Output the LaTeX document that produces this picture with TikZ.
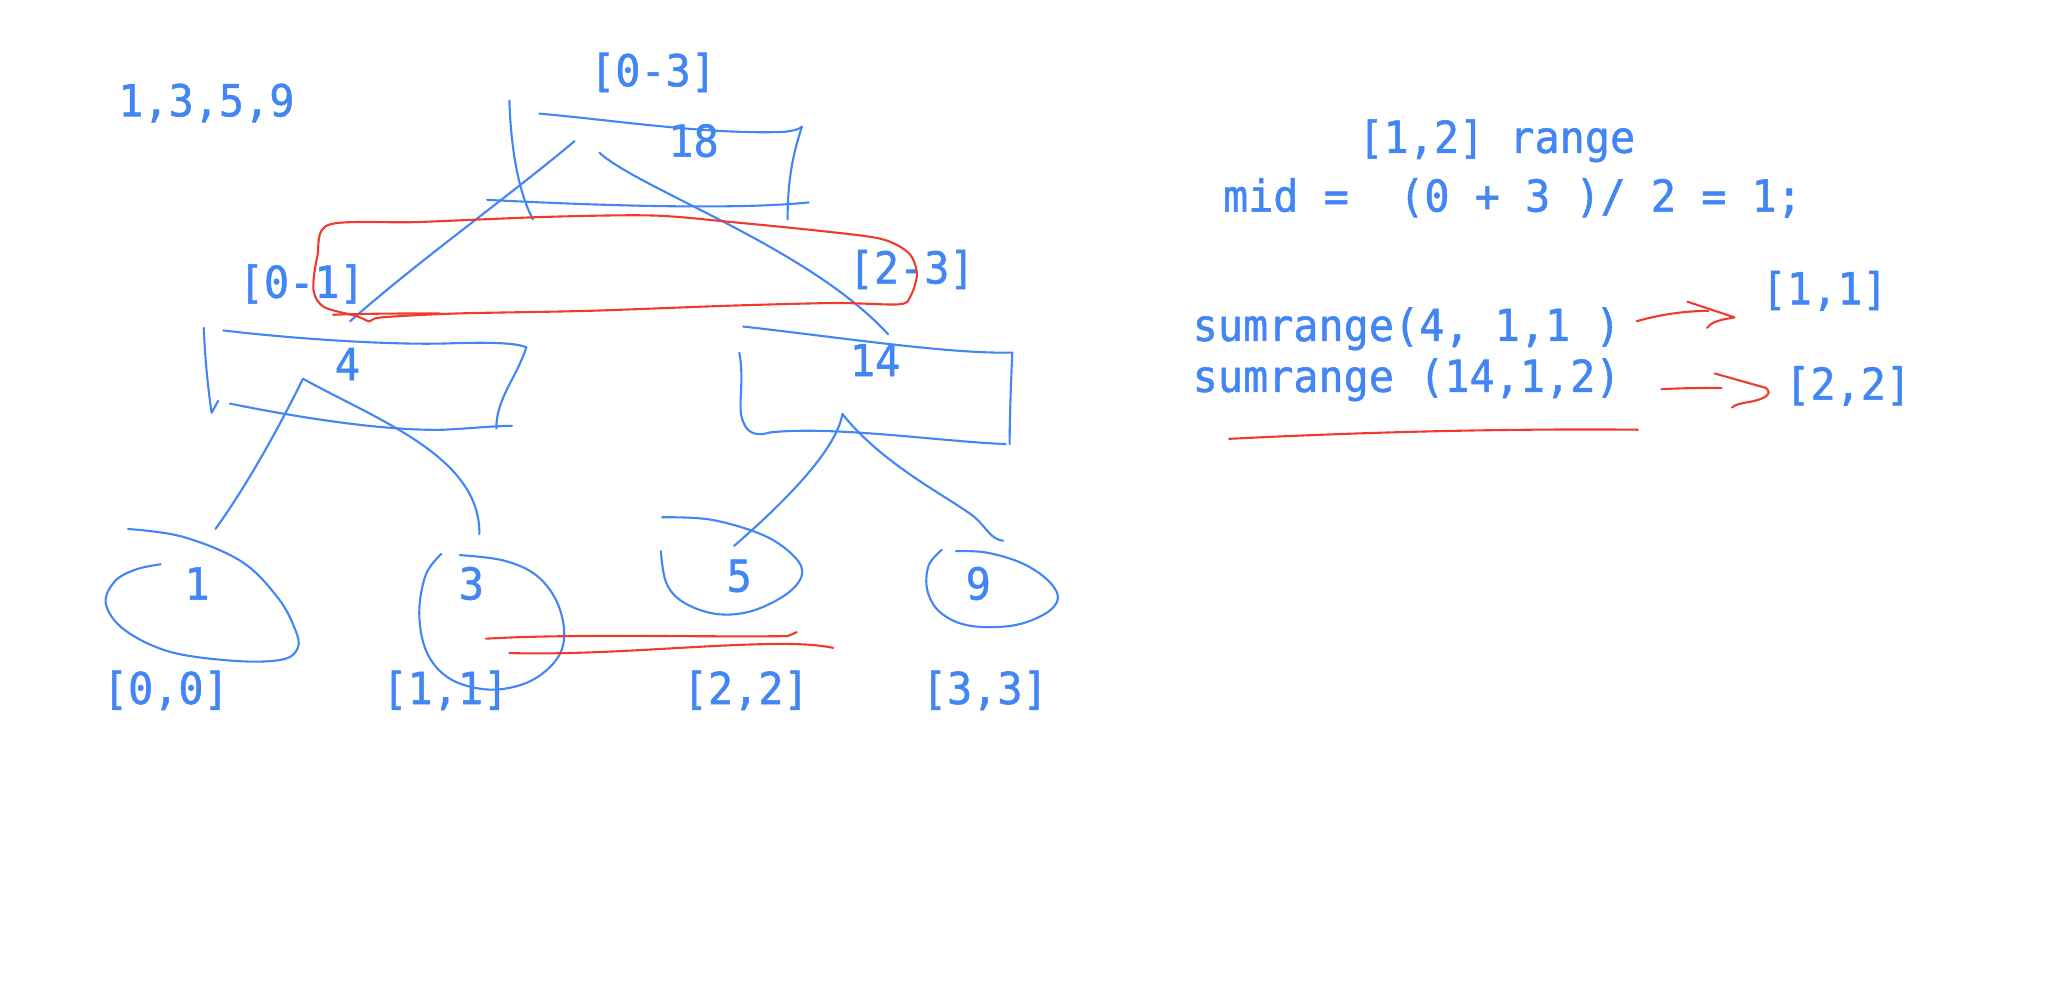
\documentclass[tikz,border=0pt]{standalone}
\usepackage{fontspec}
\newfontfamily\mono[FakeBold=1.2]{DejaVu Sans Mono}
\definecolor{gblue}{HTML}{4285F4}
\definecolor{gred}{HTML}{EE3B2E}
\newcommand\T[1]{\scalebox{0.95}[1]{#1}}
\tikzset{
  bl/.style={draw=gblue, line width=2.1pt, line cap=round, line join=round},
  rd/.style={draw=gred, line width=2.1pt, line cap=round, line join=round},
  tx/.style={font=\mono\fontsize{44}{44}\selectfont, text=gblue, inner sep=0pt, anchor=base},
}
\begin{document}
\begin{tikzpicture}[x=1.306pt,y=-1.306pt]
\fill[white] (0,0) rectangle (1568,751);
\useasboundingbox (0,0) rectangle (1568,751);

% texts
\node[tx] (arr) at (158,89) {\T{1,3,5,9}};
\node[tx] (r03) at (500,66) {\T{[0-3]}};
\node[tx] (v18) at (531,120) {\T{18}};
\node[tx] (r01) at (231,228) {\T{[0-1]}};
\node[tx] (r23) at (698,217) {\T{[2-3]}};
\node[tx] (v4) at (266,291) {\T{4}};
\node[tx] (v14) at (670,288) {\T{14}};
\node[tx] (v1) at (151,459) {\T{1}};
\node[tx] (v3) at (361,459) {\T{3}};
\node[tx] (v5) at (566,453) {\T{5}};
\node[tx] (v9) at (749,459) {\T{9}};
\node[tx] (r00) at (127,539) {\T{[0,0]}};
\node[tx] (r11) at (341,539) {\T{[1,1]}};
\node[tx] (r22) at (571,539) {\T{[2,2]}};
\node[tx] (r33) at (754,539) {\T{[3,3]}};
\node[tx] (q12) at (1146,117) {\T{[1,2] range}};
\node[tx] (mid) at (1158,162) {\T{mid =\ \ (0 + 3 )/ 2 = 1;}};
\node[tx, anchor=base west] (s1) at (913,261) {\T{sumrange(4, 1,1 )}};
\node[tx, anchor=base west] (s2) at (913,300) {\T{sumrange (14,1,2)}};
\node[tx] (a11) at (1397,233) {\T{[1,1]}};
\node[tx] (a22) at (1415,306) {\T{[2,2]}};

% root box
\draw[bl] (390,77) .. controls (391,110) and (396,145) .. (408,168);
\draw[bl] (413,87) .. controls (470,92) and (540,103) .. (600,101) .. controls (608,100) and (612,99) .. (614,97);
\draw[bl] (614,97) .. controls (608,115) and (603,135) .. (603,168);
\draw[bl] (373,153) .. controls (450,157) and (560,161) .. (619,155);
% root connectors
\draw[bl] (440,108) .. controls (390,150) and (320,200) .. (268,246);
\draw[bl] (459,117) .. controls (490,145) and (620,190) .. (680,256);

% red loop
\draw[rd] plot[smooth cycle, tension=0.5] coordinates {(252,172) (320,170) (420,166) (500,165) (560,170) (630,177) (675,183) (696,194) (702,210) (697,227) (688,233) (640,232) (560,234) (450,238) (350,240) (292,243) (283,246) (273,242) (248,235) (240,222) (243,196)};
\draw[rd] (255,241) .. controls (280,240) and (310,240) .. (337,240);

% [0-1] box
\draw[bl] (156,251) .. controls (157,275) and (159,295) .. (162,316) -- (167,307);
\draw[bl] (171,253) .. controls (230,260) and (300,264) .. (340,263) .. controls (370,262) and (395,262) .. (403,266);
\draw[bl] (403,266) .. controls (395,290) and (380,305) .. (380,328);
\draw[bl] (176,309) .. controls (240,322) and (300,330) .. (340,329) .. controls (360,328) and (380,326) .. (392,326);
% connectors from 4
\draw[bl] (232,290) .. controls (212,330) and (190,370) .. (165,405);
\draw[bl] (232,290) .. controls (290,322) and (368,350) .. (367,409);

% [2-3] box
\draw[bl] (569,250) .. controls (640,258) and (720,270) .. (768,270) -- (775,270);
\draw[bl] (775,270) .. controls (774,295) and (773,320) .. (773,340);
\draw[bl] (566,270) .. controls (570,290) and (565,310) .. (568,320) .. controls (571,330) and (576,335) .. (590,331) .. controls (640,326) and (720,338) .. (770,340);
% connectors from 14
\draw[bl] (645,317) .. controls (640,345) and (600,385) .. (562,418);
\draw[bl] (645,317) .. controls (675,355) and (725,380) .. (745,395) .. controls (755,403) and (758,413) .. (768,414);

% leaves
\draw[bl] plot[smooth, tension=0.6] coordinates {(98,405) (140,411) (185,430) (213,458) (226,482) (228,496) (216,505) (180,506) (130,499) (95,482) (81,462) (88,445) (104,436) (123,432)};
\draw[bl] plot[smooth, tension=0.6] coordinates {(338,424) (326,440) (321,470) (327,500) (345,520) (375,528) (405,522) (426,505) (432,485) (426,460) (410,440) (385,429) (352,425)};
\draw[bl] plot[smooth, tension=0.6] coordinates {(507,396) (545,398) (585,410) (608,426) (614,440) (602,455) (575,468) (548,470) (523,461) (510,446) (506,422)};
\draw[bl] plot[smooth, tension=0.6] coordinates {(721,421) (711,433) (710,452) (720,469) (742,479) (775,479) (800,470) (810,458) (802,444) (782,431) (755,423) (732,422)};

% red underlines
\draw[rd] (372,489) .. controls (440,485) and (540,488) .. (603,487) -- (610,484);
\draw[rd] (390,500) .. controls (460,502) and (540,493) .. (600,493) .. controls (615,493) and (628,494) .. (638,496);

% right arrows
\draw[rd] (1253,246) .. controls (1270,241) and (1290,238) .. (1308,238);
\draw[rd] (1292,231) -- (1328,243) .. controls (1315,245) and (1310,247) .. (1307,251);
\draw[rd] (1272,298) .. controls (1290,297) and (1305,297) .. (1318,297);
\draw[rd] (1313,286) -- (1352,297) .. controls (1358,302) and (1350,306) .. (1338,308) .. controls (1332,309) and (1328,310) .. (1326,312);
\draw[rd] (941,336) .. controls (1040,331) and (1150,328) .. (1254,329);
\end{tikzpicture}
\end{document}
